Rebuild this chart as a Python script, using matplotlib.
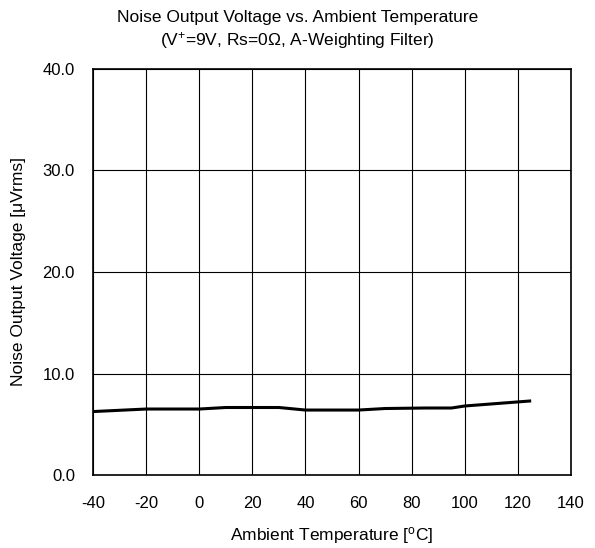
import numpy as np
import matplotlib
matplotlib.use("Agg")
import matplotlib.pyplot as plt
from matplotlib.ticker import FormatStrFormatter

plt.rcParams['font.family'] = ['Liberation Sans', 'DejaVu Sans']
plt.rcParams['mathtext.fontset'] = 'custom'
plt.rcParams['mathtext.rm'] = 'Liberation Sans'
plt.rcParams['mathtext.default'] = 'regular'
plt.rcParams['axes.unicode_minus'] = False

# data
temp_c = [-40, -20, 0, 10, 30, 40, 60, 70, 85, 95, 100, 125]
noise_uv = [6.25, 6.5, 6.5, 6.65, 6.65, 6.4, 6.4, 6.55, 6.6, 6.6, 6.8, 7.3]

x_ticks = [-40, -20, 0, 20, 40, 60, 80, 100, 120, 140]
y_ticks = [0, 10, 20, 30, 40]

fig = plt.figure(figsize=(5.95, 5.48), dpi=100)
ax = fig.add_axes([93 / 595, 73 / 548, 478 / 595, 406 / 548])

ax.plot(temp_c, noise_uv, color='black', linewidth=2.2, solid_capstyle='butt')

ax.set_xlim(-40, 140)
ax.set_ylim(0, 40)
ax.set_xticks(x_ticks)
ax.set_yticks(y_ticks)
ax.yaxis.set_major_formatter(FormatStrFormatter('%.1f'))
ax.grid(True, color='black', linewidth=0.8)
ax.tick_params(length=0, labelsize=12)
ax.tick_params(axis='y', pad=13)
ax.tick_params(axis='x', pad=15)
for s in ax.spines.values():
    s.set_linewidth(1.2)
    s.set_color('black')

ax.set_xlabel(r'Ambient Temperature [$^{o}$C]', fontsize=12.5, labelpad=10)
ax.set_ylabel(r'Noise Output Voltage [μVrms]', fontsize=12.5, labelpad=12)

fig.text(0.5, 1 - 22 / 548, 'Noise Output Voltage vs. Ambient Temperature',
         ha='center', va='baseline', fontsize=12.5)
fig.text(0.5, 1 - 45 / 548, r'(V$^{+}$=9V, Rs=0Ω, A-Weighting Filter)',
         ha='center', va='baseline', fontsize=12.5)

fig.savefig('out.png', dpi=100)
